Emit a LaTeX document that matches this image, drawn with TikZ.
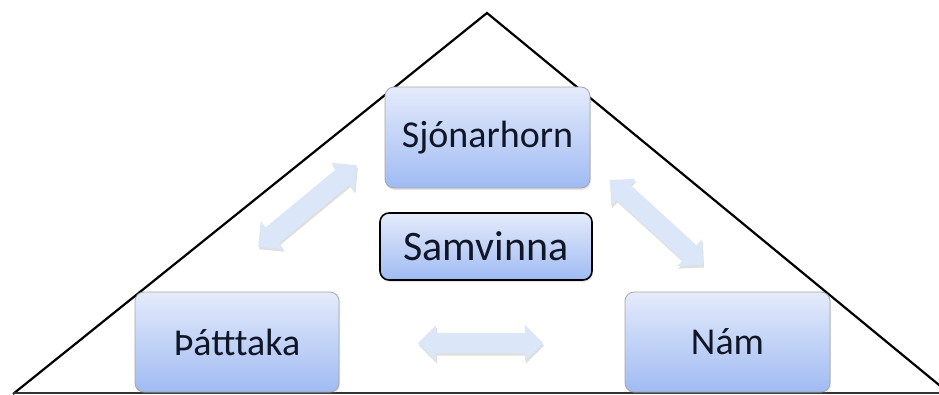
\documentclass[tikz,border=0pt]{standalone}
\usepackage{fontspec}
\setmainfont{Carlito}
\usetikzlibrary{shapes.arrows,shadows}
\definecolor{boxtop}{HTML}{E4EBFB}
\definecolor{boxbot}{HTML}{A0BBF3}
\definecolor{arrowfill}{HTML}{DCE6F9}
\definecolor{txt}{HTML}{101626}
\tikzset{
  box/.style={rounded corners=9pt, draw=gray!70, line width=0.8pt,
    top color=boxtop, bottom color=boxbot, text=txt, font=\fontsize{38}{42}\selectfont,
    drop shadow={shadow xshift=1pt, shadow yshift=-2pt, opacity=0.2}},
  centerbox/.style={box, draw=black, line width=1.6pt, font=\fontsize{42}{46}\selectfont},
  dblarrow/.style={double arrow, fill=arrowfill, draw=none, minimum height=#1,
    inner xsep=0pt, inner ysep=10pt, double arrow head extend=8pt,
    drop shadow={shadow xshift=1pt, shadow yshift=-2.5pt, opacity=0.25}},
  tri/.style={line width=2.2pt, black, line join=miter}
}
\begin{document}
\begin{tikzpicture}[x=1pt,y=-1pt]
\useasboundingbox (0,0) rectangle (939,394);
% triangle
\coordinate (apex) at (487,13);
\coordinate (bl) at (13,394);
\coordinate (br) at (950,394);
\draw[tri] (bl) -- (apex) -- (br);
\draw[line width=1.5pt, black!80] (13,393) -- (939,393);
% boxes
\node[box, minimum width=205pt, minimum height=101pt] (sjon) at (487.5,137.5) {Sjónarhorn};
\node[centerbox, minimum width=212pt, minimum height=67pt] (samv) at (486,246.5) {Samvinna};
\node[box, minimum width=204pt, minimum height=100pt] (patt) at (237,342) {Þátttaka};
\node[box, minimum width=205pt, minimum height=100pt] (nam) at (727.5,342) {Nám};
% arrows
\node[dblarrow=128pt, rotate=39.6] (a1) at (307.5,206) {};
\node[dblarrow=126pt, rotate=-42.4] (a2) at (656.5,222.5) {};
\node[dblarrow=125pt] (a3) at (480.5,343) {};
\end{tikzpicture}
\end{document}
